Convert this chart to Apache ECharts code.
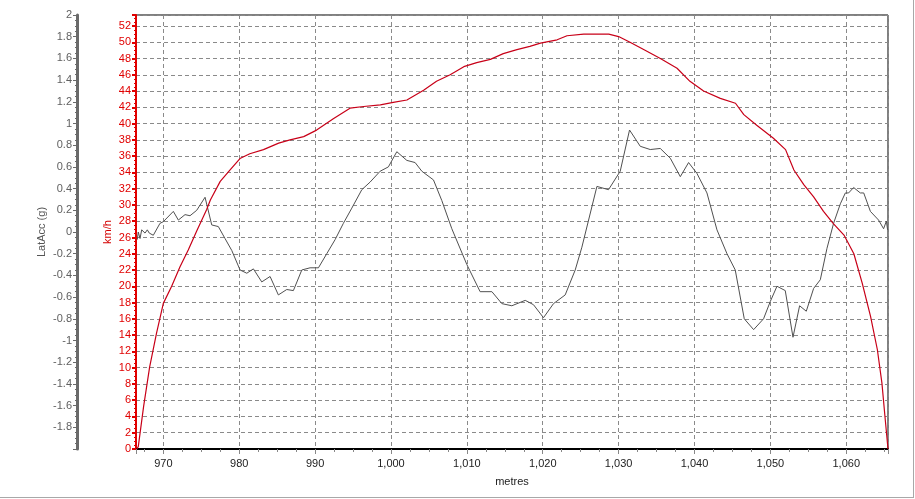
<!DOCTYPE html>
<html>
<head>
<meta charset="utf-8">
<script src="https://cdn.jsdelivr.net/npm/echarts@6/dist/echarts.min.js"></script>
<style>
html,body{margin:0;padding:0;background:#fff;}
#chart{width:913px;height:497px;border-right:1px solid #a8a8a8;border-bottom:1px solid #a8a8a8;}
</style>
</head>
<body>
<div id="chart"></div>
<script>
// Speed trace (km/h) vs distance (metres)
var speedDist = [966.5,966.7,967.4,968.2,969.1,970.0,971.1,972.2,973.3,974.4,975.7,976.2,977.5,978.8,980.1,981.4,983.2,985.2,986.7,988.5,990.2,992.4,994.6,996.4,998.6,1000.3,1002.1,1004.3,1006.0,1007.8,1009.6,1011.3,1013.1,1014.8,1016.6,1018.3,1019.7,1021.9,1023.2,1025.4,1028.7,1030.0,1031.5,1033.3,1035.5,1037.7,1039.4,1041.2,1043.4,1045.4,1046.5,1048.2,1050.4,1052.0,1053.1,1054.4,1055.7,1057.0,1058.3,1059.7,1061.0,1062.1,1063.2,1064.1,1064.7,1065.1,1065.5];
var speedKmh = [0,0.3,5.2,10.1,14.2,17.9,20.0,22.4,24.5,26.8,29.4,30.6,32.9,34.3,35.7,36.3,36.8,37.6,38.0,38.4,39.2,40.6,41.9,42.1,42.3,42.6,42.9,44.1,45.2,46.0,47.0,47.5,47.9,48.6,49.1,49.5,49.9,50.3,50.8,51.0,51.0,50.7,50.0,49.1,48.0,46.8,45.2,44.0,43.1,42.5,41.1,39.8,38.2,36.8,34.3,32.5,31.0,29.2,27.7,26.3,24.0,20.4,16.3,12.2,8.1,4.0,0];

// Lateral acceleration trace (g) vs distance (metres)
var latDist = [966.57,966.70,966.93,967.15,967.59,967.89,968.15,968.68,969.56,970.0,971.32,971.98,972.86,973.52,974.40,975.50,976.38,977.25,978.13,979.02,980.11,981.0,981.87,982.97,984.07,985.16,986.27,987.14,988.25,989.34,990.44,991.54,992.64,993.73,994.84,996.16,997.25,998.57,999.66,1000.77,1002.09,1003.18,1004.07,1005.60,1006.70,1008.02,1010.0,1011.75,1013.30,1014.61,1015.93,1017.69,1018.78,1020.10,1021.42,1022.96,1024.28,1025.16,1027.14,1028.67,1030.21,1031.44,1032.85,1034.17,1035.49,1036.81,1038.13,1039.22,1040.32,1041.64,1042.96,1044.28,1045.37,1046.56,1047.79,1049.10,1049.99,1050.87,1051.96,1052.98,1053.85,1054.73,1055.70,1056.58,1057.46,1058.33,1059.22,1059.88,1060.31,1060.97,1061.85,1062.30,1063.18,1064.26,1064.92,1065.28,1065.45];
var latG = [-0.07,0.0,-0.06,0.02,-0.01,0.02,-0.01,-0.03,0.08,0.095,0.19,0.11,0.16,0.15,0.2,0.32,0.065,0.05,-0.06,-0.17,-0.35,-0.38,-0.34,-0.46,-0.41,-0.58,-0.53,-0.54,-0.35,-0.33,-0.33,-0.2,-0.07,0.08,0.22,0.39,0.46,0.56,0.6,0.74,0.66,0.64,0.56,0.48,0.29,0.03,-0.3,-0.55,-0.55,-0.66,-0.68,-0.63,-0.67,-0.79,-0.66,-0.58,-0.35,-0.14,0.42,0.39,0.56,0.94,0.79,0.76,0.77,0.68,0.51,0.64,0.54,0.36,0.02,-0.2,-0.35,-0.8,-0.9,-0.8,-0.64,-0.5,-0.54,-0.97,-0.68,-0.73,-0.52,-0.44,-0.15,0.08,0.26,0.36,0.36,0.41,0.36,0.36,0.19,0.11,0.03,0.1,0.02];

var xMin = 966.4, xMax = 1065.5;
var speedMin = 0, speedMax = 53.35;
var latMin = -2, latMax = 2;

function zip(a, b) { return a.map(function (v, i) { return [v, b[i]]; }); }

var chart = echarts.init(document.getElementById('chart'), null, {renderer: 'canvas'});
var FONT = 'Liberation Sans, Arial, sans-serif';
var gridDash = {color: '#8a8a8a', type: [4, 3], width: 1};

chart.setOption({
  animation: false,
  backgroundColor: '#ffffff',
  textStyle: {fontFamily: FONT},
  grid: {left: 136, right: 25, top: 15, bottom: 48, show: true, borderColor: '#000', borderWidth: 1, containLabel: false},
  graphic: [
    {type: 'text', x: 108, y: 232, rotation: Math.PI / 2,
      style: {text: 'km/h', align: 'center', verticalAlign: 'middle', fill: '#d40000', font: '11px ' + FONT}},
    {type: 'text', x: 42, y: 232, rotation: Math.PI / 2,
      style: {text: 'LatAcc (g)', align: 'center', verticalAlign: 'middle', fill: '#555555', font: '11px ' + FONT}}
  ],
  xAxis: {
    type: 'value', min: xMin, max: xMax, splitNumber: 10,
    name: 'metres', nameLocation: 'middle', nameGap: 27,
    nameTextStyle: {color: '#222', fontSize: 11, fontFamily: FONT},
    axisLine: {show: true, lineStyle: {color: '#000', width: 2}},
    axisTick: {show: true, length: 5, lineStyle: {color: '#888'}},
    minorTick: {show: true, splitNumber: 4, length: 3, lineStyle: {color: '#888'}},
    axisLabel: {color: '#222', fontSize: 11, fontFamily: FONT, margin: 9, showMinLabel: false, showMaxLabel: false,
      formatter: function (v) { return Math.round(v).toLocaleString('en-US'); }},
    splitLine: {show: true, lineStyle: gridDash}
  },
  yAxis: [
    {
      type: 'value', min: speedMin, max: speedMax, interval: 2, position: 'left', offset: 0,
      axisLine: {show: true, lineStyle: {color: '#e00000', width: 2}},
      axisTick: {show: true, length: 4, lineStyle: {color: '#e00000', width: 2}},
      minorTick: {show: true, splitNumber: 4, length: 2, lineStyle: {color: '#e00000'}},
      axisLabel: {color: '#e00000', fontSize: 11, fontFamily: FONT, margin: 5, showMaxLabel: false,
        formatter: function (v) { return (Math.abs(v % 2) < 1e-6) ? String(Math.round(v)) : ''; }},
      splitLine: {show: true, lineStyle: gridDash}
    },
    {
      type: 'value', min: latMin, max: latMax, interval: 0.2, position: 'left', offset: 59,
      axisLine: {show: true, lineStyle: {color: '#6a6a6a', width: 3}},
      axisTick: {show: true, length: 4, lineStyle: {color: '#6a6a6a'}},
      minorTick: {show: true, splitNumber: 4, length: 2, lineStyle: {color: '#6a6a6a'}},
      axisLabel: {color: '#606060', fontSize: 11, fontFamily: FONT, margin: 5, showMinLabel: false,
        formatter: function (v) { return String(Math.round(v * 10) / 10); }},
      splitLine: {show: false}
    }
  ],
  series: [
    {
      type: 'line', name: 'LatAcc', yAxisIndex: 1, data: zip(latDist, latG),
      showSymbol: false, symbol: 'none', lineStyle: {color: '#505050', width: 1}, z: 3
    },
    {
      type: 'line', name: 'Speed', yAxisIndex: 0, data: zip(speedDist, speedKmh),
      showSymbol: false, symbol: 'none', lineStyle: {color: '#c80018', width: 1.2}, z: 4
    }
  ]
});
</script>
</body>
</html>
